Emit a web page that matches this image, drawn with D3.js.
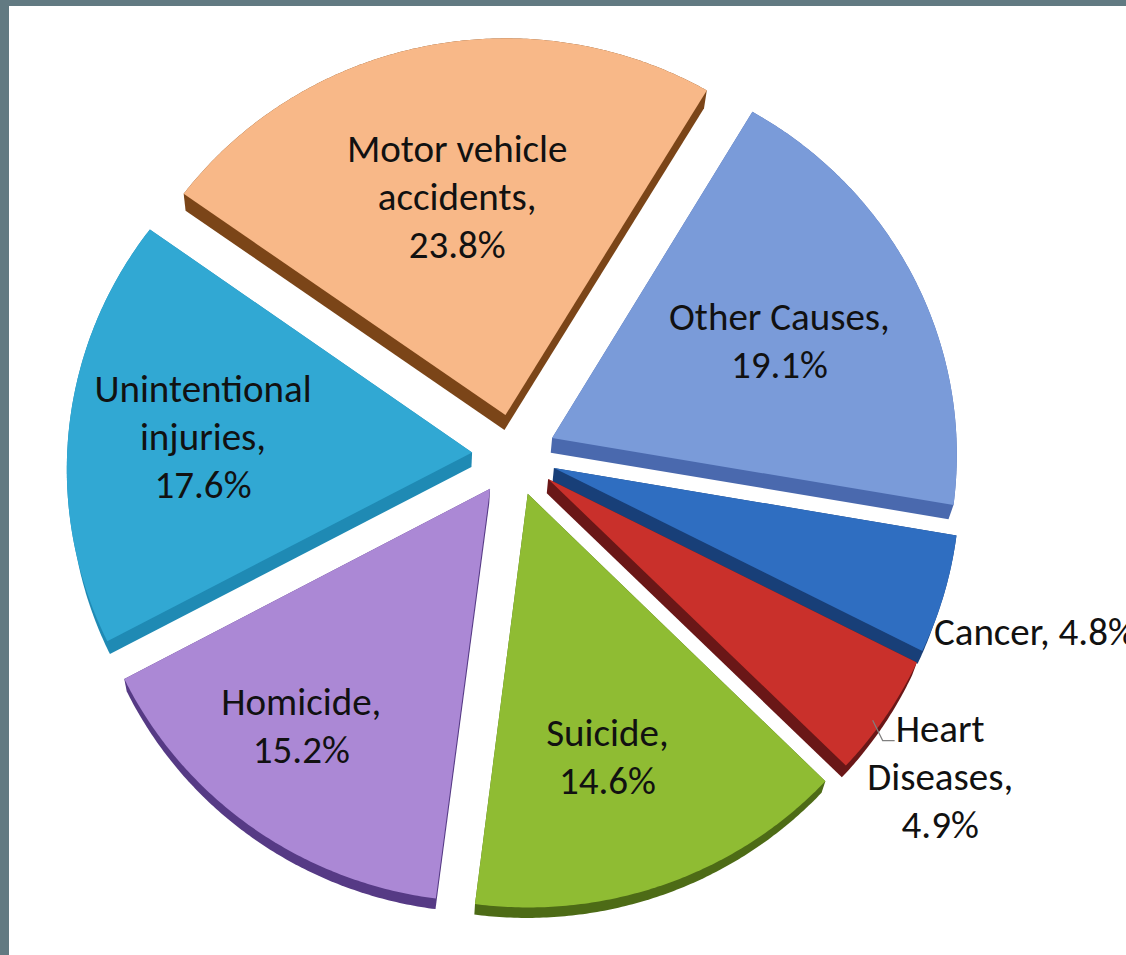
<!DOCTYPE html>
<html>
<head>
<meta charset="utf-8">
<script src="https://cdn.jsdelivr.net/npm/d3@7/dist/d3.min.js"></script>
<style>
  html, body { margin: 0; padding: 0; background: #ffffff; overflow: hidden; }
  svg { display: block; }
</style>
</head>
<body>
<svg id="chart" width="1126" height="955"></svg>
<script>
// ---- data ----
const categories = ["Other Causes", "Cancer", "Heart Diseases", "Suicide", "Homicide", "Unintentional injuries", "Motor vehicle accidents"];
const values = [19.1, 4.8, 4.9, 14.6, 15.2, 17.6, 23.8];
const labelWrap = [["Other Causes"], ["Cancer"], ["Heart", "Diseases"], ["Suicide"], ["Homicide"], ["Unintentional", "injuries"], ["Motor vehicle", "accidents"]];
const inlineLabel = [false, true, false, false, false, false, false];
const outsideLabel = [false, true, true, false, false, false, false];

// ---- style / layout ----
const topColors = ["#7a9bd9", "#2f6ec1", "#c9302b", "#8fbc33", "#ab88d5", "#31a8d3", "#f8b888"];
const sideColors = ["#4a69ae", "#183f78", "#6a1717", "#4d6b16", "#563a85", "#1f8ab4", "#7b4518"];
// label placement relative to slice centre: [radius fraction, angle shift in degrees]
const labelPlace = [[0.621, 0.9], [1.007, 5.5], [1.187, 2.1], [0.672, 2.6], [0.737, 3.3], [0.667, -0.2], [0.583, -0.3]];

const W = 1126, H = 955;
const CX = 514, CY = 455, R = 405, EXPLODE = 42;
const TILT = 0.974, PERSP_Y = 9.6e-5;
const START = 31 * Math.PI / 180;
const VP = [400, 2070], WALL_K = 0.009;
const FONT = "Carlito, Lato, 'Open Sans', sans-serif", FS = 39, LH = 48;

const svg = d3.select("#chart");
svg.append("rect").attr("width", W).attr("height", H).attr("fill", "#627a82");
svg.append("rect").attr("x", 9).attr("y", 6).attr("width", W - 9).attr("height", H - 6).attr("fill", "#ffffff");

const colorTop = d3.scaleOrdinal().domain(categories).range(topColors);
const colorSide = d3.scaleOrdinal().domain(categories).range(sideColors);

const arcs = d3.pie().sort(null).startAngle(START).endAngle(START + 2 * Math.PI)(values);

function proj(x, y) {
  const s = 1 / (1 - PERSP_Y * y);
  return [CX + x * s, CY + y * TILT * s];
}
function drop(p) {
  return [p[0] + WALL_K * (VP[0] - p[0]), p[1] + WALL_K * (VP[1] - p[1])];
}
const polyLine = d3.line().curve(d3.curveLinearClosed);

const g = svg.append("g");
const slices = arcs.map((a, i) => {
  const mid = (a.startAngle + a.endAngle) / 2;
  const ox = EXPLODE * Math.sin(mid), oy = -EXPLODE * Math.cos(mid);
  const pts = [proj(ox, oy)];
  const n = Math.max(8, Math.ceil((a.endAngle - a.startAngle) / (0.5 * Math.PI / 180)));
  for (let k = 0; k <= n; k++) {
    const t = a.startAngle + (a.endAngle - a.startAngle) * k / n;
    pts.push(proj(ox + R * Math.sin(t), oy - R * Math.cos(t)));
  }
  return { a, i, mid, ox, oy, pts };
});

slices.forEach(s => {
  const hull = d3.polygonHull(s.pts.concat(s.pts.map(drop)));
  g.append("path").attr("d", polyLine(hull)).attr("fill", colorSide(categories[s.i]));
  g.append("path").attr("d", polyLine(s.pts)).attr("fill", colorTop(categories[s.i]));
});

// ---- labels ----
const fmt = d3.format(".1f");
const lab = svg.append("g").attr("font-family", FONT).attr("font-size", FS).attr("fill", "#111111");
slices.forEach(s => {
  const [frac, dDeg] = labelPlace[s.i];
  const ang = s.mid + dDeg * Math.PI / 180;
  const p = proj(s.ox + frac * R * Math.sin(ang), s.oy - frac * R * Math.cos(ang));
  const wrap = labelWrap[s.i].slice();
  wrap[wrap.length - 1] += ",";
  const valTxt = fmt(values[s.i]) + "%";
  let lines;
  if (inlineLabel[s.i]) lines = [wrap.join(" ") + " " + valTxt];
  else lines = wrap.concat([valTxt]);
  const t = lab.append("text")
    .attr("text-anchor", inlineLabel[s.i] ? "start" : "middle")
    .attr("x", p[0]).attr("y", p[1]);
  lines.forEach((ln, j) => {
    t.append("tspan").attr("x", p[0])
      .attr("y", p[1] + (j - (lines.length - 1) / 2) * LH)
      .attr("dominant-baseline", "central")
      .text(ln);
  });
  if (outsideLabel[s.i] && !inlineLabel[s.i]) {
    // leader line from slice rim down to the baseline of the first label line
    const first = t.select("tspan").node().getBBox();
    const ra = s.mid + 1.5 * Math.PI / 180;
    const rim = proj(s.ox + 0.98 * R * Math.sin(ra), s.oy - 0.98 * R * Math.cos(ra));
    const baseY = first.y + first.height * 0.5 + FS * 0.3;
    const end = [first.x - 1, baseY];
    const elbow = [Math.max(rim[0] + 6, end[0] - 12), baseY];
    svg.append("path")
      .attr("d", d3.line()([rim, elbow, end]))
      .attr("fill", "none").attr("stroke", "#808080").attr("stroke-width", 1.2);
  }
});
</script>
</body>
</html>
